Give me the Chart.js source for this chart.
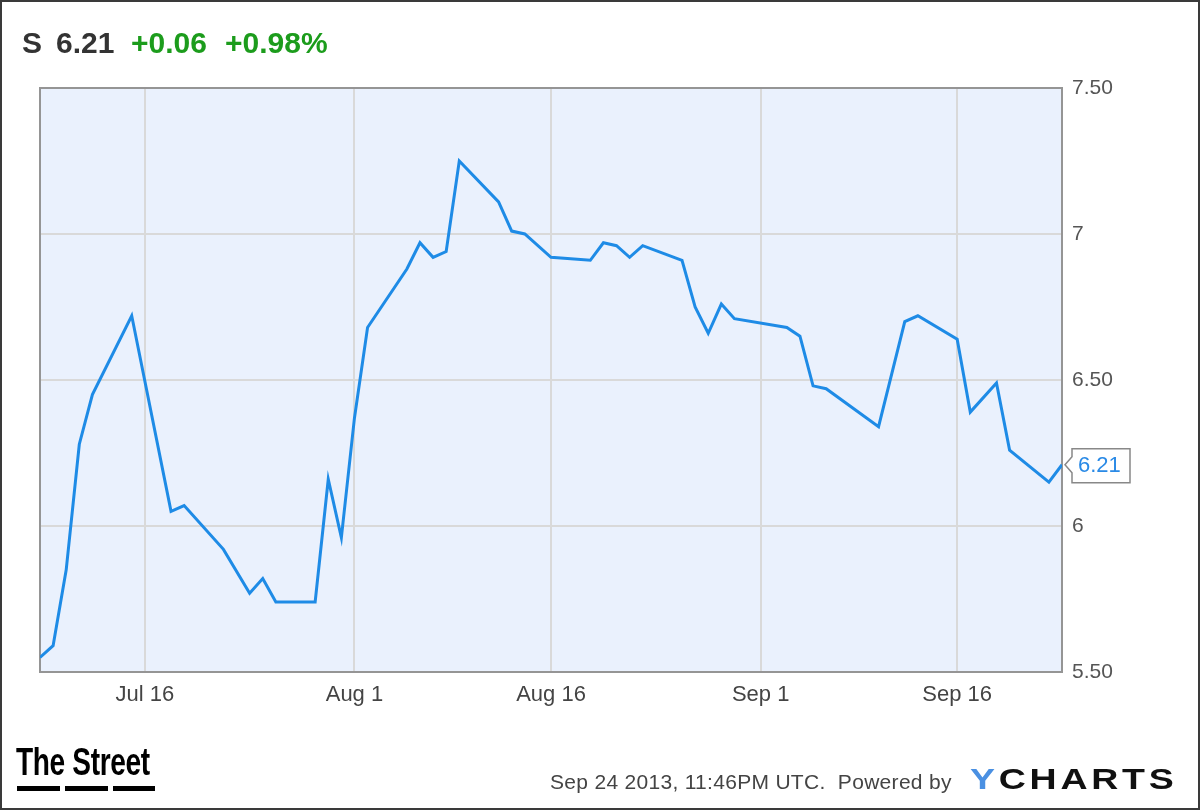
<!DOCTYPE html>
<html>
<head>
<meta charset="utf-8">
<title>S stock price</title>
<script src="https://cdn.jsdelivr.net/npm/chart.js@4.4.1/dist/chart.umd.min.js"></script>
<style>
  html, body { margin: 0; padding: 0; background: #fff; }
  #wrap { position: relative; width: 1200px; height: 810px; overflow: hidden; font-family: "Liberation Sans", Arial, sans-serif; }
  #chart { position: absolute; left: 0; top: 0; }
  #frame { position: absolute; left: 0; top: 0; width: 1200px; height: 810px; box-sizing: border-box; border: 2px solid #3a3a3a; pointer-events: none; }
  .hd { position: absolute; top: 28px; font-size: 30px; line-height: 30px; font-weight: bold; white-space: nowrap; }
  .dark { color: #333; }
  .green { color: #1c9c1c; }
  #street { position: absolute; left: 16px; top: 742px; font-size: 39px; line-height: 39px; font-weight: bold; color: #000; transform: scaleX(0.72); transform-origin: left top; white-space: nowrap; letter-spacing: -0.5px; }
  .dash { position: absolute; top: 786px; height: 5px; background: #000; }
  #stamp { position: absolute; left: 550px; top: 771px; font-size: 21px; line-height: 21px; color: #444; white-space: nowrap; letter-spacing: 0.3px; }
  #ycharts { position: absolute; left: 970px; top: 764px; font-size: 30px; line-height: 30px; font-weight: bold; color: #111; letter-spacing: 3px; white-space: nowrap; transform: scaleX(1.25); transform-origin: left top; }
  #ycharts span { color: #4a90e2; }
</style>
</head>
<body>
<div id="wrap">
  <canvas id="chart" width="1200" height="810"></canvas>
  <div class="hd dark" style="left:22px">S</div>
  <div class="hd dark" style="left:56px">6.21</div>
  <div class="hd green" style="left:131px">+0.06</div>
  <div class="hd green" style="left:225px">+0.98%</div>
  <div id="street">The Street</div>
  <div class="dash" style="left:17px;width:43px"></div>
  <div class="dash" style="left:65px;width:43px"></div>
  <div class="dash" style="left:113px;width:42px"></div>
  <div id="stamp">Sep 24 2013, 11:46PM UTC.&nbsp; Powered by</div>
  <div id="ycharts"><span>Y</span>CHARTS</div>
  <div id="frame"></div>
</div>
<script>
// trading days and closing prices
var dates = [
    '2013-07-08', '2013-07-09', '2013-07-10', '2013-07-11', '2013-07-12',
    '2013-07-15', '2013-07-18', '2013-07-19', '2013-07-22', '2013-07-24',
    '2013-07-25', '2013-07-26', '2013-07-29', '2013-07-30', '2013-07-31',
    '2013-08-01', '2013-08-02', '2013-08-05', '2013-08-06', '2013-08-07',
    '2013-08-08', '2013-08-09', '2013-08-12', '2013-08-13', '2013-08-14',
    '2013-08-16', '2013-08-19', '2013-08-20', '2013-08-21', '2013-08-22',
    '2013-08-23', '2013-08-26', '2013-08-27', '2013-08-28', '2013-08-29',
    '2013-08-30', '2013-09-03', '2013-09-04', '2013-09-05', '2013-09-06',
    '2013-09-10', '2013-09-12', '2013-09-13', '2013-09-16', '2013-09-17',
    '2013-09-19', '2013-09-20', '2013-09-23', '2013-09-24'
];
var prices = [
    5.55, 5.59, 5.85, 6.28, 6.45,
    6.72, 6.05, 6.07, 5.92, 5.77,
    5.82, 5.74, 5.74, 6.16, 5.96,
    6.37, 6.68, 6.88, 6.97, 6.92,
    6.94, 7.25, 7.11, 7.01, 7.00,
    6.92, 6.91, 6.97, 6.96, 6.92,
    6.96, 6.91, 6.75, 6.66, 6.76,
    6.71, 6.68, 6.65, 6.48, 6.47,
    6.34, 6.70, 6.72, 6.64, 6.39,
    6.49, 6.26, 6.15, 6.21
];

var tickDates = ['2013-07-16', '2013-08-01', '2013-08-16', '2013-09-01', '2013-09-16'];
var tickLabels = ['Jul 16', 'Aug 1', 'Aug 16', 'Sep 1', 'Sep 16'];
var yTicks = [5.5, 6, 6.5, 7, 7.5];

function dayNum(s) {
    var p = s.split('-');
    return Date.UTC(+p[0], +p[1] - 1, +p[2]) / 86400000;
}

var points = dates.map(function(d, i) {
    return { x: dayNum(d), y: prices[i] };
});

// fond bleu + cadre de la zone du graphique + étiquette du dernier cours
var plotDeco = {
    id: 'plotDeco',
    beforeDraw: function(chart) {
        var a = chart.chartArea, ctx = chart.ctx;
        ctx.save();
        ctx.fillStyle = '#eaf1fd';
        ctx.fillRect(a.left, a.top, a.right - a.left, a.bottom - a.top);
        ctx.restore();
    },
    beforeDatasetsDraw: function(chart) {
        var a = chart.chartArea, ctx = chart.ctx;
        ctx.save();
        ctx.strokeStyle = '#959595';
        ctx.lineWidth = 2;
        ctx.strokeRect(a.left, a.top, a.right - a.left, a.bottom - a.top);
        ctx.restore();
    },
    afterDatasetsDraw: function(chart) {
        var ctx = chart.ctx;
        var last = points[points.length - 1];
        var px = chart.scales.x.getPixelForValue(last.x);
        var py = chart.scales.y.getPixelForValue(last.y);
        var bx = px + 10, by = py - 16, bw = 58, bh = 34;
        ctx.save();
        ctx.beginPath();
        ctx.moveTo(bx, by);
        ctx.lineTo(bx + bw, by);
        ctx.lineTo(bx + bw, by + bh);
        ctx.lineTo(bx, by + bh);
        ctx.lineTo(bx, py + 8);
        ctx.lineTo(px + 3, py);
        ctx.lineTo(bx, py - 8);
        ctx.closePath();
        ctx.fillStyle = '#fff';
        ctx.fill();
        ctx.strokeStyle = '#888';
        ctx.lineWidth = 1.5;
        ctx.stroke();
        ctx.fillStyle = '#2a8ae6';
        ctx.font = '22px "Liberation Sans", Arial, sans-serif';
        ctx.textBaseline = 'middle';
        ctx.fillText(last.y.toFixed(2), bx + 6, py + 1);
        ctx.restore();
    }
};

var chart = new Chart(document.getElementById('chart').getContext('2d'), {
    type: 'line',
    data: {
        datasets: [{
            data: points,
            borderColor: '#1e8be6',
            borderWidth: 3,
            pointRadius: 0,
            tension: 0,
            fill: false
        }]
    },
    options: {
        responsive: false,
        animation: false,
        devicePixelRatio: 1,
        layout: { padding: { left: 40, top: 88, right: 0, bottom: 0 } },
        plugins: {
            legend: { display: false },
            tooltip: { enabled: false }
        },
        scales: {
            x: {
                type: 'linear',
                min: dayNum(dates[0]),
                max: dayNum(dates[dates.length - 1]),
                afterBuildTicks: function(scale) {
                    scale.ticks = tickDates.map(function(d) { return { value: dayNum(d) }; });
                },
                afterFit: function(scale) { scale.height = 138; },
                grid: { color: '#d9d9d9', lineWidth: 2, drawTicks: false },
                border: { display: false },
                ticks: {
                    autoSkip: false,
                    maxRotation: 0,
                    padding: 10,
                    color: '#444',
                    font: { family: '"Liberation Sans", Arial, sans-serif', size: 22 },
                    callback: function(value, index) { return tickLabels[index]; }
                }
            },
            y: {
                position: 'right',
                min: 5.5,
                max: 7.5,
                afterBuildTicks: function(scale) {
                    scale.ticks = yTicks.map(function(v) { return { value: v }; });
                },
                afterFit: function(scale) { scale.width = 138; },
                grid: { color: '#d9d9d9', lineWidth: 2, drawTicks: false },
                border: { display: false },
                ticks: {
                    padding: 10,
                    color: '#555',
                    font: { family: '"Liberation Sans", Arial, sans-serif', size: 21 },
                    callback: function(value) {
                        return value === Math.round(value) ? String(value) : value.toFixed(2);
                    }
                }
            }
        }
    },
    plugins: [plotDeco]
});
</script>
</body>
</html>
